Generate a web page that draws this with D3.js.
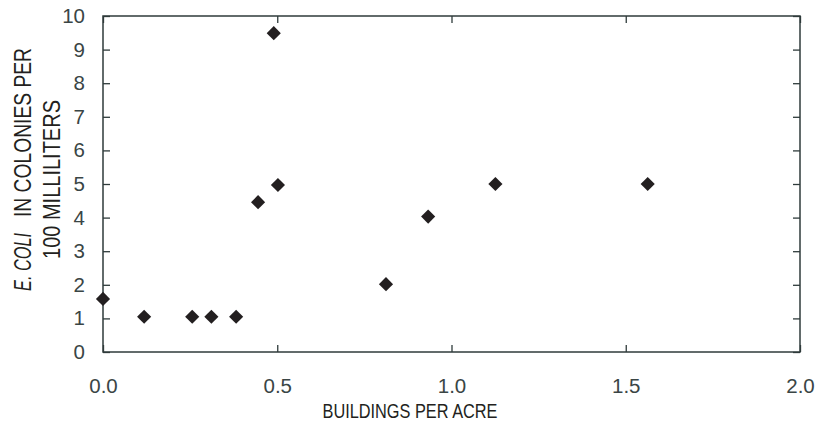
<!DOCTYPE html>
<html><head><meta charset="utf-8">
<script src="https://cdn.jsdelivr.net/npm/d3@7"></script>
<style>body{margin:0;background:#fff}</style>
</head><body>
<svg id="c" width="818" height="440"></svg>
<script>
const xValues = [0.0, 0.118, 0.256, 0.311, 0.382, 0.445, 0.49, 0.502, 0.812, 0.933, 1.126, 1.563];
const yValues = [1.58, 1.05, 1.05, 1.05, 1.05, 4.46, 9.49, 4.97, 2.02, 4.03, 5.0, 5.0];
const xTicks = [0, 0.5, 1.0, 1.5, 2.0];
const yTicks = [0,1,2,3,4,5,6,7,8,9,10];

const svg = d3.select("#c");
const L = 103, R = 800, T = 16, B = 352;
const axisColor = "#2f3b3b", textColor = "#3a4545";
const x = d3.scaleLinear().domain([0, 2]).range([L, R]);
const y = d3.scaleLinear().domain([0, 10]).range([B, T]);
const lf = "Liberation Sans, Arial, sans-serif";

function styleAxis(g){
  g.select(".domain").remove();
  g.selectAll(".tick line").attr("stroke", axisColor).attr("stroke-width", 1.3);
  g.selectAll(".tick text").attr("fill", textColor).attr("font-family", lf).attr("font-size", 20.5);
}
svg.append("g").attr("transform", `translate(0,${B})`)
  .call(d3.axisBottom(x).tickValues(xTicks).tickFormat(d3.format(".1f")).tickSizeInner(-7).tickPadding(26))
  .call(styleAxis);
svg.append("g").attr("transform", `translate(0,${T})`)
  .call(d3.axisTop(x).tickValues(xTicks).tickSizeInner(-7).tickFormat(""))
  .call(styleAxis);
svg.append("g").attr("transform", `translate(${L},0)`)
  .call(d3.axisLeft(y).tickValues(yTicks).tickFormat(d3.format("d")).tickSizeInner(-7).tickPadding(18))
  .call(styleAxis);
svg.append("g").attr("transform", `translate(${R},0)`)
  .call(d3.axisRight(y).tickValues(yTicks).tickSizeInner(-7).tickFormat(""))
  .call(styleAxis);

svg.append("rect").attr("x", L).attr("y", T).attr("width", R - L).attr("height", B - T)
  .attr("fill", "none").attr("stroke", axisColor).attr("stroke-width", 1.5);

const pts = xValues.map((v, i) => ({x: v, y: yValues[i]}));
svg.append("g").selectAll("path").data(pts).join("path")
  .attr("d", d3.symbol().type(d3.symbolSquare).size(100))
  .attr("transform", d => `translate(${x(d.x)},${y(d.y)}) rotate(45)`)
  .attr("fill", "#231f20");

svg.append("text").attr("x", 410).attr("y", 418).attr("text-anchor", "middle")
  .attr("font-family", lf).attr("font-size", 21)
  .attr("textLength", 175).attr("lengthAdjust", "spacingAndGlyphs")
  .attr("fill", "#231f20").text("BUILDINGS PER ACRE");

function vlabel(bx, startY, len, txt, italic){
  svg.append("text").attr("transform", `translate(${bx},0) rotate(-90)`)
    .attr("x", -startY).attr("y", 0)
    .attr("font-family", lf).attr("font-size", 23).attr("fill", "#231f20")
    .attr("font-style", italic ? "italic" : "normal")
    .attr("textLength", len).attr("lengthAdjust", "spacingAndGlyphs")
    .text(txt);
}
vlabel(31, 291, 58, "E. COLI", true);
vlabel(31, 217, 169, "IN COLONIES PER", false);
vlabel(60, 259, 159, "100 MILLILITERS", false);
</script>
</body></html>
